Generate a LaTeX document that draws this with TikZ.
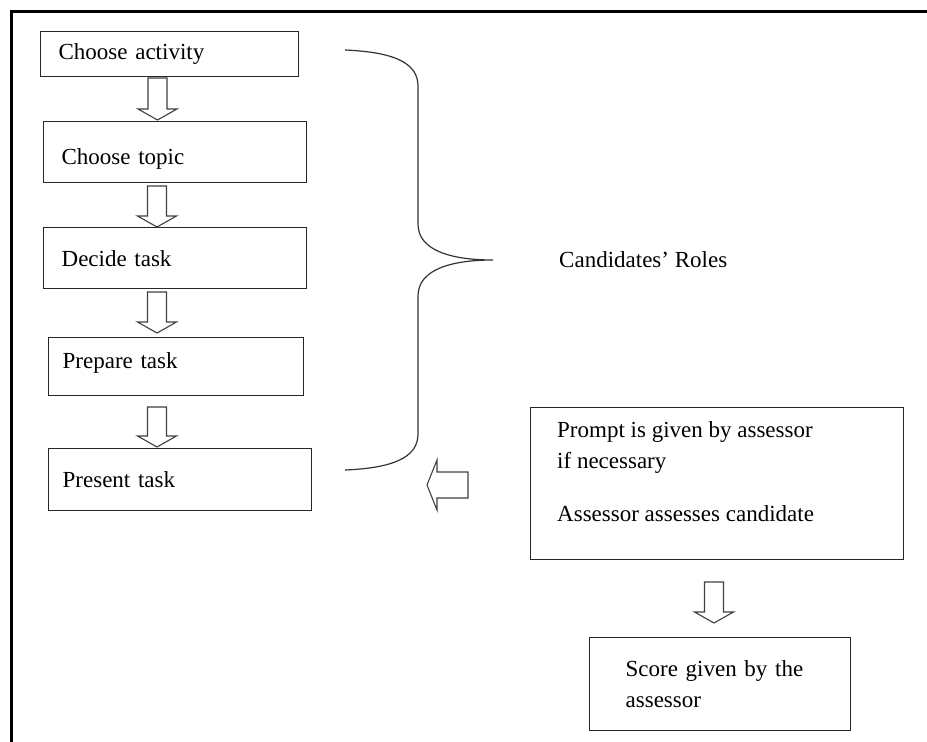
\documentclass[tikz,border=0pt]{standalone}
\usepackage{fontspec}
\setmainfont{Liberation Serif}
\usetikzlibrary{calc}
\usetikzlibrary{positioning}
% hollow block arrow pointing down: x of shaft, top y, tip y
\newcommand{\dblk}[3]{\draw[blk] (#1-9.5,#2) -- (#1+9.5,#2) -- (#1+9.5,#3-11) -- (#1+19.5,#3-11) -- (#1,#3) -- (#1-19.5,#3-11) -- (#1-9.5,#3-11) -- cycle;}

\begin{document}
\begin{tikzpicture}[x=1pt,y=-1pt,
  every node/.style={font=\fontsize{23}{31}\selectfont},
  box/.style={draw=black!85, line width=1.3pt, anchor=north west, align=left, inner xsep=18pt},
  txt/.style={anchor=north west, align=left, inner sep=0pt},
  blk/.style={draw=black!75, line width=1.1pt, line join=miter, fill=white}]

  \useasboundingbox (0,0) rectangle (927,742);

  \coordinate (TL) at (11,11); %frame corner
  \coordinate (TR) at (927,11);
  \coordinate (BL) at (11,742);
  \draw[line width=3pt] (TR)--(TL)--(BL); %frame

  % left column
  \node[box, text width=222pt, minimum height=45pt] (act) at (40,31) {Choose activity};
  \node[box, text width=227pt, minimum height=61pt, text height=30pt] (topic) at (43,121) {Choose topic};
  \node[box, text width=227pt, minimum height=61pt] (decide) at (43,227) {Decide task};
  \node[box, text width=227pt, minimum height=58pt, inner xsep=14pt, text depth=13pt] (prepare) at (48,337) {Prepare task};
  \node[box, text width=235pt, minimum height=62pt, inner xsep=14pt] (present) at (48,448) {Present task};

  \dblk{157.5}{78}{120}
  \dblk{157}{186}{227}
  \dblk{157}{292}{333}
  \dblk{157}{407}{447}

  % brace
  \coordinate (tip) at (493,260);
  \draw[draw=black!80, line width=1.2pt] (345,50) .. controls (392,52) and (418,62) .. (418,86)
    -- (418,224) .. controls (418,250) and (450,260) .. (tip)
    .. controls (450,260) and (418,270) .. (418,296)
    -- (418,434) .. controls (418,458) and (392,468) .. (345,470);
  \node[txt, anchor=west] (roles) at (559,260) {Candidates’ Roles};

  % right side
  \node[box, minimum width=373pt, minimum height=152pt] (prompt) at (530,407) {};
  \node[txt] (prompttxt) at (557,421) {Prompt is given by assessor\\if necessary\\[22pt]Assessor assesses candidate};
  \draw[blk] (427,485)--(437,460)--(437,472)--(468,472)--(468,498)--(437,498)--(437,510)--cycle;

  \dblk{714}{582}{623}
  \node[box, text width=189pt, minimum height=93pt, inner xsep=36pt] (score) at (589,637) {Score given by the\\assessor};

\end{tikzpicture}
\end{document}
